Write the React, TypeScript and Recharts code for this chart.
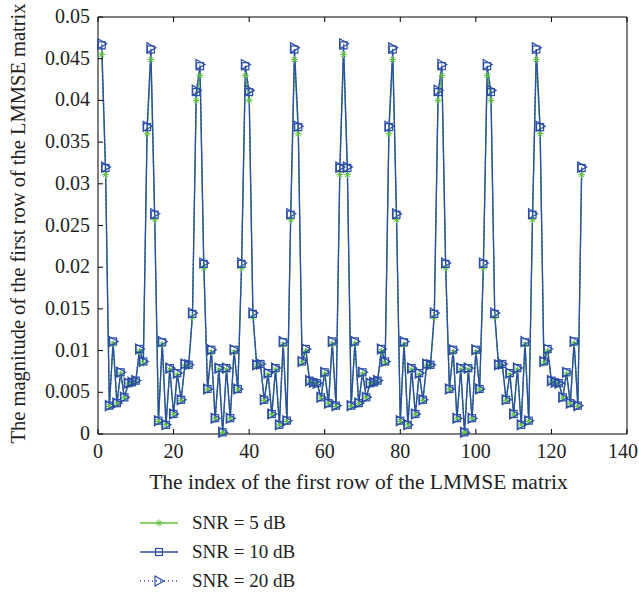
import React from "react"
import { LineChart, Line, XAxis, YAxis, Legend, Label } from "recharts"

// row index 1..128
const rowIndex = Array.from({ length: 128 }, (_, i) => i + 1)

const snr5 = [
  0.0455, 0.0311, 0.0033, 0.0108, 0.0036, 0.0072, 0.0043, 0.006, 0.006, 0.0062, 0.0099, 0.0085, 0.036, 0.0449, 0.0257, 0.0015,
  0.0107, 0.0011, 0.0077, 0.0023, 0.0071, 0.004, 0.0082, 0.0081, 0.014, 0.04, 0.043, 0.0199, 0.0053, 0.0098, 0.0018, 0.0077,
  0.0002, 0.0077, 0.0018, 0.0098, 0.0053, 0.0199, 0.043, 0.04, 0.014, 0.0081, 0.0082, 0.004, 0.0071, 0.0023, 0.0077, 0.0011,
  0.0107, 0.0015, 0.0257, 0.0449, 0.036, 0.0085, 0.0099, 0.0062, 0.006, 0.006, 0.0043, 0.0072, 0.0036, 0.0108, 0.0033, 0.0311,
  0.0455, 0.0311, 0.0033, 0.0108, 0.0036, 0.0072, 0.0043, 0.006, 0.006, 0.0062, 0.0099, 0.0085, 0.036, 0.0449, 0.0257, 0.0015,
  0.0107, 0.0011, 0.0077, 0.0023, 0.0071, 0.004, 0.0082, 0.0081, 0.014, 0.04, 0.043, 0.0199, 0.0053, 0.0098, 0.0018, 0.0077,
  0.0002, 0.0077, 0.0018, 0.0098, 0.0053, 0.0199, 0.043, 0.04, 0.014, 0.0081, 0.0082, 0.004, 0.0071, 0.0023, 0.0077, 0.0011,
  0.0107, 0.0015, 0.0257, 0.0449, 0.036, 0.0085, 0.0099, 0.0062, 0.006, 0.006, 0.0043, 0.0072, 0.0036, 0.0108, 0.0033, 0.0311,
]

const snr10 = [
  0.0466, 0.0319, 0.0034, 0.0111, 0.0037, 0.0074, 0.0044, 0.0061, 0.0062, 0.0064, 0.0102, 0.0087, 0.0368, 0.0461, 0.0263, 0.0016,
  0.011, 0.0011, 0.0079, 0.0024, 0.0073, 0.0041, 0.0084, 0.0083, 0.0144, 0.041, 0.0441, 0.0204, 0.0054, 0.0101, 0.0019, 0.0079,
  0.0002, 0.0079, 0.0019, 0.0101, 0.0054, 0.0204, 0.0441, 0.041, 0.0144, 0.0083, 0.0084, 0.0041, 0.0073, 0.0024, 0.0079, 0.0011,
  0.011, 0.0016, 0.0263, 0.0461, 0.0368, 0.0087, 0.0102, 0.0064, 0.0062, 0.0061, 0.0044, 0.0074, 0.0037, 0.0111, 0.0034, 0.0319,
  0.0466, 0.0319, 0.0034, 0.0111, 0.0037, 0.0074, 0.0044, 0.0061, 0.0062, 0.0064, 0.0102, 0.0087, 0.0368, 0.0461, 0.0263, 0.0016,
  0.011, 0.0011, 0.0079, 0.0024, 0.0073, 0.0041, 0.0084, 0.0083, 0.0144, 0.041, 0.0441, 0.0204, 0.0054, 0.0101, 0.0019, 0.0079,
  0.0002, 0.0079, 0.0019, 0.0101, 0.0054, 0.0204, 0.0441, 0.041, 0.0144, 0.0083, 0.0084, 0.0041, 0.0073, 0.0024, 0.0079, 0.0011,
  0.011, 0.0016, 0.0263, 0.0461, 0.0368, 0.0087, 0.0102, 0.0064, 0.0062, 0.0061, 0.0044, 0.0074, 0.0037, 0.0111, 0.0034, 0.0319,
]

const snr20 = [
  0.0468, 0.032, 0.0034, 0.0111, 0.0037, 0.0074, 0.0044, 0.0061, 0.0062, 0.0064, 0.0102, 0.0087, 0.0369, 0.0463, 0.0264, 0.0016,
  0.0111, 0.0011, 0.0079, 0.0024, 0.0073, 0.0041, 0.0084, 0.0083, 0.0145, 0.0412, 0.0443, 0.0205, 0.0054, 0.0101, 0.0019, 0.0079,
  0.0002, 0.0079, 0.0019, 0.0101, 0.0054, 0.0205, 0.0443, 0.0412, 0.0145, 0.0083, 0.0084, 0.0041, 0.0073, 0.0024, 0.0079, 0.0011,
  0.0111, 0.0016, 0.0264, 0.0463, 0.0369, 0.0087, 0.0102, 0.0064, 0.0062, 0.0061, 0.0044, 0.0074, 0.0037, 0.0111, 0.0034, 0.032,
  0.0468, 0.032, 0.0034, 0.0111, 0.0037, 0.0074, 0.0044, 0.0061, 0.0062, 0.0064, 0.0102, 0.0087, 0.0369, 0.0463, 0.0264, 0.0016,
  0.0111, 0.0011, 0.0079, 0.0024, 0.0073, 0.0041, 0.0084, 0.0083, 0.0145, 0.0412, 0.0443, 0.0205, 0.0054, 0.0101, 0.0019, 0.0079,
  0.0002, 0.0079, 0.0019, 0.0101, 0.0054, 0.0205, 0.0443, 0.0412, 0.0145, 0.0083, 0.0084, 0.0041, 0.0073, 0.0024, 0.0079, 0.0011,
  0.0111, 0.0016, 0.0264, 0.0463, 0.0369, 0.0087, 0.0102, 0.0064, 0.0062, 0.0061, 0.0044, 0.0074, 0.0037, 0.0111, 0.0034, 0.032,
]

const xTicks = [0, 20, 40, 60, 80, 100, 120, 140]
const yTicks = [0, 0.005, 0.01, 0.015, 0.02, 0.025, 0.03, 0.035, 0.04, 0.045, 0.05]
const seriesNames = ["SNR = 5 dB", "SNR = 10 dB", "SNR = 20 dB"]

const data = rowIndex.map((x, i) => ({ x, s5: snr5[i], s10: snr10[i], s20: snr20[i] }))

const GREEN = "#62c43f"
const BLUE = "#2c4ea8"
const FONT = "'Liberation Serif', 'Times New Roman', serif"
const TICK = 5

// markers
function Star({ cx, cy, color }: any) {
  const r = 3.5
  const d = r * 0.72
  return (
    <g stroke={color} strokeWidth={1}>
      <line x1={cx - r} y1={cy} x2={cx + r} y2={cy} />
      <line x1={cx} y1={cy - r} x2={cx} y2={cy + r} />
      <line x1={cx - d} y1={cy - d} x2={cx + d} y2={cy + d} />
      <line x1={cx - d} y1={cy + d} x2={cx + d} y2={cy - d} />
    </g>
  )
}

function Square({ cx, cy, color }: any) {
  return <rect x={cx - 3.5} y={cy - 3.5} width={7} height={7} fill="none" stroke={color} strokeWidth={1.2} />
}

function TriRight({ cx, cy, color }: any) {
  const pts = `${cx + 5},${cy} ${cx - 4},${cy - 5} ${cx - 4},${cy + 5}`
  return <polygon points={pts} fill="none" stroke={color} strokeWidth={1.2} />
}

// inward ticks, MATLAB style
function BottomTick({ x, y, payload }: any) {
  const last = payload.value === 140
  return (
    <g>
      <line x1={x} y1={y} x2={x} y2={y - TICK} stroke="#000" />
      <text
        x={last ? 638 : x}
        y={y + 24}
        textAnchor={last ? "end" : "middle"}
        fontFamily={FONT}
        fontSize={20}
        fill="#222"
      >
        {payload.value}
      </text>
    </g>
  )
}

function TopTick({ x, y }: any) {
  return <line x1={x} y1={y} x2={x} y2={y + TICK} stroke="#000" />
}

function LeftTick({ x, y, payload }: any) {
  return (
    <g>
      <line x1={x} y1={y} x2={x + TICK} y2={y} stroke="#000" />
      <text x={x - 8} y={y + 6} textAnchor="end" fontFamily={FONT} fontSize={20} fill="#222">
        {String(payload.value)}
      </text>
    </g>
  )
}

function RightTick({ x, y }: any) {
  return <line x1={x} y1={y} x2={x - TICK} y2={y} stroke="#000" />
}

function LegendBox() {
  const rows = [
    { color: GREEN, dash: undefined, Mark: Star },
    { color: BLUE, dash: undefined, Mark: Square },
    { color: BLUE, dash: "1 3", Mark: TriRight },
  ]
  return (
    <svg width={220} height={90}>
      {rows.map((r, i) => {
        const y = 14 + i * 29
        return (
          <g key={i}>
            <line x1={10} y1={y} x2={48} y2={y} stroke={r.color} strokeWidth={1.3} strokeDasharray={r.dash} />
            <r.Mark cx={29} cy={y} color={r.color} />
            <text x={62} y={y + 6} fontFamily={FONT} fontSize={19} fill="#222">
              {seriesNames[i]}
            </text>
          </g>
        )
      })}
    </svg>
  )
}

export default function App() {
  return (
    <div>
      <style>{"body{margin:0}"}</style>
      <LineChart width={639} height={598} data={data} margin={{ top: 12, right: 7, left: 38, bottom: 134 }}>
        <XAxis
          dataKey="x"
          type="number"
          domain={[0, 140]}
          ticks={xTicks}
          tickSize={0}
          tickMargin={0}
          tick={<BottomTick />}
          stroke="#000"
          height={30}
          interval={0}
        >
          <Label
            content={({ viewBox }: any) => (
              <text
                x={viewBox.x + viewBox.width / 2 - 4}
                y={viewBox.y + 55}
                textAnchor="middle"
                fontFamily={FONT}
                fontSize={21.5}
                fill="#222"
              >
                The index of the first row of the LMMSE matrix
              </text>
            )}
          />
        </XAxis>
        <XAxis
          xAxisId="top"
          orientation="top"
          dataKey="x"
          type="number"
          domain={[0, 140]}
          ticks={xTicks}
          tickSize={0}
          tickMargin={0}
          tick={<TopTick />}
          stroke="#000"
          height={5}
          interval={0}
        />
        <YAxis
          type="number"
          domain={[0, 0.05]}
          ticks={yTicks}
          tickSize={0}
          tickMargin={0}
          tick={<LeftTick />}
          stroke="#000"
          width={60}
          interval={0}
        >
          <Label
            content={({ viewBox }: any) => {
              const cx = 25
              const cy = viewBox.y + viewBox.height / 2 - 2
              return (
                <text
                  x={cx}
                  y={cy}
                  transform={`rotate(-90 ${cx} ${cy})`}
                  textAnchor="middle"
                  fontFamily={FONT}
                  fontSize={20.5}
                  fill="#222"
                >
                  The magnitude of the first row of the LMMSE matrix
                </text>
              )
            }}
          />
        </YAxis>
        <YAxis
          yAxisId="right"
          orientation="right"
          type="number"
          domain={[0, 0.05]}
          ticks={yTicks}
          tickSize={0}
          tickMargin={0}
          tick={<RightTick />}
          stroke="#000"
          width={5}
          interval={0}
        />
        <Line
          dataKey="s5"
          name={seriesNames[0]}
          stroke={GREEN}
          strokeWidth={1.3}
          isAnimationActive={false}
          dot={(p: any) => <Star key={`a${p.index}`} cx={p.cx} cy={p.cy} color={GREEN} />}
        />
        <Line
          dataKey="s10"
          name={seriesNames[1]}
          stroke={BLUE}
          strokeWidth={1.3}
          isAnimationActive={false}
          dot={(p: any) => <Square key={`b${p.index}`} cx={p.cx} cy={p.cy} color={BLUE} />}
        />
        <Line
          dataKey="s20"
          name={seriesNames[2]}
          stroke={BLUE}
          strokeWidth={1.3}
          strokeDasharray="1 3"
          isAnimationActive={false}
          dot={(p: any) => <TriRight key={`c${p.index}`} cx={p.cx} cy={p.cy} color={BLUE} />}
        />
        <Legend
          layout="vertical"
          align="center"
          verticalAlign="middle"
          wrapperStyle={{ left: 130, top: 509, width: 220, height: 90 }}
          content={() => <LegendBox />}
        />
      </LineChart>
    </div>
  )
}
